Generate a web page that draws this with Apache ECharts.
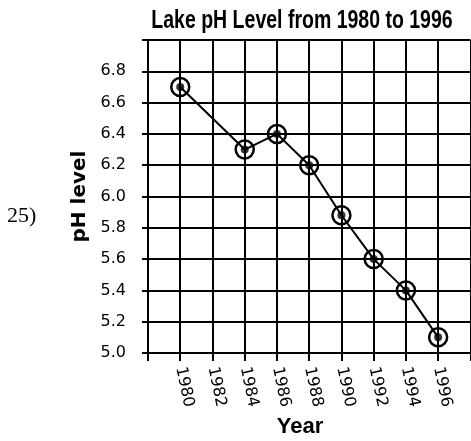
<!DOCTYPE html>
<html>
<head>
<meta charset="utf-8">
<script src="https://cdn.jsdelivr.net/npm/echarts@6/dist/echarts.min.js"></script>
<style>
html,body{margin:0;padding:0;background:#fff;}
#chart{width:471px;height:441px;}
</style>
</head>
<body>
<div id="chart"></div>
<script>
var years = [1980, 1984, 1986, 1988, 1990, 1992, 1994, 1996];
var phValues = [6.7, 6.3, 6.4, 6.2, 5.88, 5.6, 5.4, 5.1];
var xLabelYears = [1980, 1982, 1984, 1986, 1988, 1990, 1992, 1994, 1996];
var yLabelValues = ['5.0','5.2','5.4','5.6','5.8','6.0','6.2','6.4','6.6','6.8'];

var pts = years.map(function (y, i) { return [y, phValues[i]]; });

var chart = echarts.init(document.getElementById('chart'));
chart.setOption({
  backgroundColor: '#fff',
  animation: false,
  grid: { left: 148, top: 40, right: 0, bottom: 88, containLabel: false },
  xAxis: {
    type: 'value', min: 1978, max: 1998, interval: 2,
    axisLine: { show: true, lineStyle: { color: '#000', width: 2 } },
    axisTick: { show: true, length: 8, lineStyle: { color: '#000', width: 2 } },
    splitLine: { show: true, lineStyle: { color: '#000', width: 2 } },
    axisLabel: {
      rotate: -78, margin: 14, color: '#000', fontSize: 16,
      fontFamily: 'DejaVu Sans',
      formatter: function (v) { return xLabelYears.indexOf(v) >= 0 ? String(v) : ''; }
    }
  },
  yAxis: {
    type: 'value', min: 5.0, max: 7.0, interval: 0.2,
    name: 'pH level', nameLocation: 'middle', nameRotate: 90, nameGap: 58,
    nameTextStyle: { color: '#000', fontSize: 20, fontWeight: 'bold', fontFamily: 'DejaVu Sans' },
    axisLine: { show: true, lineStyle: { color: '#000', width: 2 } },
    axisTick: { show: true, length: 6, lineStyle: { color: '#000', width: 2 } },
    splitLine: { show: true, lineStyle: { color: '#000', width: 2 } },
    axisLabel: {
      margin: 22, color: '#000', fontSize: 16, fontFamily: 'DejaVu Sans',
      formatter: function (v) { var s = v.toFixed(1); return yLabelValues.indexOf(s) >= 0 ? s : ''; }
    }
  },
  graphic: [
    { type: 'text', x: 302, y: 21, scaleX: 0.78, style: { text: 'Lake pH Level from 1980 to 1996', fill: '#000',
      font: "bold 25px 'Liberation Sans', Arial, sans-serif",
      textAlign: 'center', textVerticalAlign: 'middle' } },
    { type: 'text', x: 300, y: 427, style: { text: 'Year', fill: '#000',
      font: "bold 22px 'Liberation Sans', Arial, sans-serif",
      textAlign: 'center', textVerticalAlign: 'middle' } },
    { type: 'text', x: 7, y: 216, style: { text: '25)', fill: '#000',
      font: "22px 'Liberation Serif', serif",
      textAlign: 'left', textVerticalAlign: 'middle' } }
  ],
  series: [
    {
      type: 'line', data: pts, symbol: 'circle', symbolSize: 18,
      lineStyle: { color: '#000', width: 2 },
      itemStyle: { color: 'rgba(0,0,0,0)', borderColor: '#000', borderWidth: 2.5 },
      z: 3
    },
    {
      type: 'scatter', data: pts, symbol: 'circle', symbolSize: 8,
      itemStyle: { color: '#000' }, z: 4
    }
  ]
});
</script>
</body>
</html>
